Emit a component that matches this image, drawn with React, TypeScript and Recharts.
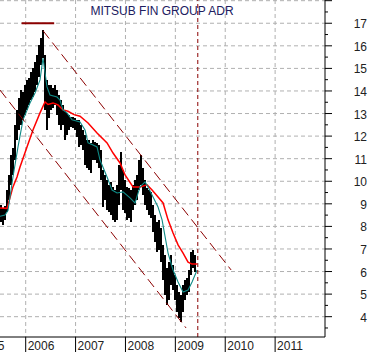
import React from 'react';
import { ComposedChart, Scatter, ErrorBar, Line, XAxis, YAxis, CartesianGrid, ReferenceLine } from 'recharts';

// Bi-weekly price bars starting mid 2005 (decimal years)
const barStart = 2005.505;
const barStep = 0.0401;
const highs = [
  8.95, 8.82, 8.91, 9.61, 10.28, 11.16, 11.47, 12.49, 13.16, 13.69,
  14.04, 13.96, 14.27, 14.49, 14.58, 14.84, 15.02, 15.28, 15.6, 16.04,
  16.35, 16.7, 15.6, 14.49, 14.27, 14.27, 14.13, 14.27, 14.04, 13.82,
  13.6, 13.38, 13.16, 13.03, 12.94, 12.85, 12.85, 12.8, 12.72, 12.72,
  12.49, 12.27, 12.05, 11.83, 11.83, 11.7, 11.83, 11.74, 11.7, 11.61,
  11.39, 10.5, 10.28, 10.06, 9.84, 9.97, 9.75, 9.61, 9.84, 10.72,
  11.3, 10.5, 10.06, 9.75, 9.7, 9.61, 9.84, 10.06, 10.28, 10.94,
  11.16, 10.59, 10.06, 9.7, 9.61, 9.53, 8.95, 8.51, 8.2, 8.28,
  7.93, 7.18, 6.73, 6.16, 6.42, 6.73, 6.29, 5.85, 5.4, 5.09,
  4.96, 5.4, 5.63, 5.72, 6.07, 6.87, 6.96, 6.73,
];
const lows = [
  8.2, 8.06, 8.28, 8.64, 9.17, 9.84, 10.28, 10.94, 11.83, 12.27,
  12.49, 12.72, 12.94, 13.16, 13.38, 13.6, 13.73, 13.96, 14.27, 14.62,
  15.15, 15.46, 13.16, 12.27, 12.8, 13.16, 13.25, 13.38, 12.94, 12.49,
  12.27, 12.49, 11.83, 12.05, 12.27, 12.4, 12.36, 12.27, 11.96, 11.52,
  11.61, 11.39, 10.72, 10.59, 10.5, 10.37, 10.94, 10.94, 10.81, 10.59,
  10.06, 8.86, 9.17, 8.73, 8.64, 8.51, 8.28, 8.2, 8.28, 8.95,
  9.61, 8.73, 8.6, 8.28, 8.37, 8.2, 8.73, 8.95, 9.17, 9.61,
  9.84, 9.39, 8.95, 8.73, 8.51, 8.37, 7.75, 7.31, 6.87, 6.96,
  6.42, 5.63, 4.96, 4.52, 4.74, 5.4, 5.18, 4.74, 4.21, 3.94,
  3.77, 4.21, 4.74, 4.96, 5.09, 5.85, 6.16, 5.98,
];

// short moving average (teal)
const tealDates = [
  2005.485, 2005.585, 2005.645, 2005.745, 2005.846, 2005.946, 2006.086, 2006.187, 2006.287, 2006.347,
  2006.427, 2006.487, 2006.628, 2006.688, 2006.748, 2006.828, 2006.929, 2007.089, 2007.189, 2007.25,
  2007.35, 2007.43, 2007.49, 2007.631, 2007.731, 2007.831, 2007.951, 2008.092, 2008.192, 2008.292,
  2008.393, 2008.453, 2008.553, 2008.653, 2008.734, 2008.854, 2008.954, 2009.054, 2009.155, 2009.255,
  2009.335, 2009.436,
];
const tealValues = [
  8.45, 8.5, 8.7, 10.19, 11.52, 12.72, 13.47, 13.91, 14.49, 15.46,
  14.18, 13.82, 13.73, 13.6, 13.16, 13.03, 12.72, 12.63, 12.27, 11.7,
  11.61, 11.52, 10.94, 10.19, 9.61, 9.48, 9.53, 9.26, 9.04, 9.75,
  9.97, 9.75, 9.3, 8.86, 8.29, 6.82, 6.07, 5.54, 5.09, 5.18,
  5.54, 6.07,
];

// long moving average (red)
const redDates = [
  2005.485, 2005.625, 2005.745, 2005.826, 2005.886, 2006.026, 2006.146, 2006.287, 2006.387, 2006.447,
  2006.548, 2006.648, 2006.748, 2006.848, 2006.969, 2007.089, 2007.25, 2007.43, 2007.631, 2007.751,
  2007.891, 2007.992, 2008.152, 2008.292, 2008.433, 2008.533, 2008.653, 2008.754, 2008.854, 2008.954,
  2009.054, 2009.155, 2009.255, 2009.335, 2009.436,
];
const redValues = [
  8.82, 8.8, 9.75, 10.19, 10.63, 11.52, 12.27, 13.03, 13.51, 13.4,
  13.47, 13.38, 13.16, 13.1, 12.95, 12.88, 12.58, 12.14, 11.7, 11.25,
  10.81, 10.28, 9.75, 9.75, 9.84, 9.61, 9.3, 9.04, 8.29, 7.71,
  7.18, 6.82, 6.42, 6.33, 6.33,
];

// Trend channel
const upperChannel = [
  { x: 2006.347, y: 16.67 },
  { x: 2010.118, y: 6.07 },
];
const lowerChannel = [
  { x: 2005.485, y: 14.04 },
  { x: 2009.215, y: 3.5 },
];
const peakMarker = [
  { x: 2005.918, y: 17 },
  { x: 2006.571, y: 17 },
];
const todayLine = 2009.45;

const yearTicks = [2005, 2006, 2007, 2008, 2009, 2010, 2011];
const priceTicks = [4, 5, 6, 7, 8, 9, 10, 11, 12, 13, 14, 15, 16, 17, 18];
const labelledMax = 17;

const priceData = highs.map((h, i) => {
  const lo = lows[i];
  const mid = (h + lo) / 2;
  return {
    d: +(barStart + i * barStep).toFixed(3),
    mid,
    err: [mid - lo, h - mid],
  };
});
const tealData = tealDates.map((d, i) => ({ d, v: tealValues[i] }));
const redData = redDates.map((d, i) => ({ d, v: redValues[i] }));

const yTicks: number[] = [];
priceTicks.forEach((t) => {
  yTicks.push(t - 0.5);
  yTicks.push(t);
});

const FONT = '"Liberation Sans", Arial, sans-serif';

const YTick = (props: any) => {
  const { x, y, payload } = props;
  const v = payload.value as number;
  const major = Number.isInteger(v);
  return (
    <g>
      <line x1={x} x2={x + (major ? 7 : 3)} y1={y} y2={y} stroke="#000" strokeWidth={1} />
      {major && v <= labelledMax && (
        <text x={367} y={y + 5} textAnchor="end" fontSize={12} fill="#222" fontFamily={FONT}>
          {v}
        </text>
      )}
    </g>
  );
};

const XTick = (props: any) => {
  const { x, y, payload } = props;
  return (
    <g>
      <line x1={x} x2={x} y1={y} y2={y + 15} stroke="#000" strokeWidth={1} />
      <text x={x + 2} y={y + 13} textAnchor="start" fontSize={12} fill="#222" fontFamily={FONT}>
        {payload.value}
      </text>
    </g>
  );
};

const NoShape = () => <g />;

export default function App() {
  return (
    <div style={{ position: 'absolute', left: 0, top: 0, width: 371, height: 352, background: '#fff' }}>
      <ComposedChart
        width={371}
        height={352}
        margin={{ top: 0, right: 0, bottom: 0, left: 0 }}
      >
        <CartesianGrid
          stroke="#b0b0b0"
          strokeDasharray="4 3"
          horizontalValues={priceTicks}
          verticalValues={yearTicks}
        />
        <XAxis
          dataKey="d"
          type="number"
          domain={[2005.485, 2012.0]}
          allowDataOverflow
          ticks={yearTicks}
          interval={0}
          tick={<XTick />}
          tickLine={false}
          tickSize={0}
          tickMargin={0}
          height={15}
          axisLine={{ stroke: '#000' }}
        />
        <YAxis
          orientation="right"
          type="number"
          domain={[3.1, 18.03]}
          allowDataOverflow
          ticks={yTicks}
          interval={0}
          tick={<YTick />}
          tickLine={false}
          tickSize={0}
          tickMargin={0}
          width={46}
          axisLine={{ stroke: '#000' }}
        />
        <Scatter data={priceData} dataKey="mid" shape={<NoShape />} isAnimationActive={false}>
          <ErrorBar
            dataKey="err"
            direction="y"
            width={0}
            stroke="#000"
            strokeWidth={1.5}
            shapeRendering="crispEdges"
            isAnimationActive={false}
          />
        </Scatter>
        <Line
          data={redData}
          dataKey="v"
          type="linear"
          stroke="#ff0000"
          strokeWidth={1.5}
          dot={false}
          activeDot={false}
          isAnimationActive={false}
        />
        <Line
          data={tealData}
          dataKey="v"
          type="linear"
          stroke="#0f8a86"
          strokeWidth={1.1}
          dot={false}
          activeDot={false}
          isAnimationActive={false}
        />
        <ReferenceLine segment={upperChannel} stroke="#8b0000" strokeDasharray="10 5" ifOverflow="visible" />
        <ReferenceLine segment={lowerChannel} stroke="#8b0000" strokeDasharray="10 5" ifOverflow="visible" />
        <ReferenceLine segment={peakMarker} stroke="#8b0000" strokeWidth={2} ifOverflow="visible" />
        <ReferenceLine x={todayLine} stroke="#8b0000" strokeDasharray="4 3" />
      </ComposedChart>
      <div
        style={{
          position: 'absolute',
          left: 0,
          top: 4,
          width: 324,
          textAlign: 'center',
          fontFamily: FONT,
          fontSize: 12,
          color: '#202060',
          lineHeight: '14px',
        }}
      >
        MITSUB FIN GROUP ADR
      </div>
    </div>
  );
}
